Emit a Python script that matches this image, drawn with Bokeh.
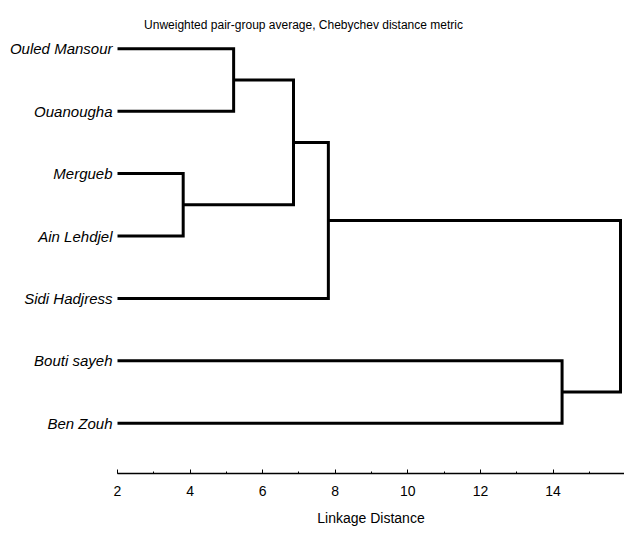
from bokeh.plotting import figure
from bokeh.models import FixedTicker, SingleIntervalTicker, Label, Range1d
from bokeh.embed import file_html
from bokeh.resources import INLINE

# ---- data ----
leaves = ["Ouled Mansour", "Ouanougha", "Mergueb", "Ain Lehdjel",
          "Sidi Hadjress", "Bouti sayeh", "Ben Zouh"]
# linkage: cluster ids 0..6 are leaves, merge k creates cluster 7+k
merge_left = [2, 0, 8, 9, 5, 10]
merge_right = [3, 1, 7, 4, 6, 11]
merge_dist = [3.81, 5.20, 6.85, 7.81, 14.25, 15.86]
x_ticks_interval = 2
title_text = "Unweighted pair-group average, Chebychev distance metric"
x_label = "Linkage Distance"

n = len(leaves)
pos = {i: (0.0, float(n - i)) for i in range(n)}
xs, ys = [], []
for k, (a, b, h) in enumerate(zip(merge_left, merge_right, merge_dist)):
    xa, ya = pos[a]
    xb, yb = pos[b]
    xs.append([xa, h, h, xb])
    ys.append([ya, ya, yb, yb])
    pos[n + k] = (h, (ya + yb) / 2.0)

p = figure(width=624, height=531, output_backend="svg", toolbar_location=None,
           x_range=Range1d(2, 15.97), y_range=Range1d(0.194, 7.774),
           min_border_left=117, min_border_right=0, min_border_top=0,
           min_border_bottom=58)
p.outline_line_color = None
p.grid.visible = False
p.background_fill_color = "white"
p.border_fill_color = "white"

p.multi_line(xs, ys, line_color="black", line_width=3, line_join="miter")

# x axis
xa = p.xaxis[0]
xa.ticker = SingleIntervalTicker(interval=x_ticks_interval, num_minor_ticks=2)
xa.axis_line_width = 1.5
xa.axis_line_color = "black"
xa.major_tick_in = 4
xa.major_tick_out = 0
xa.minor_tick_in = 2
xa.minor_tick_out = 0
xa.major_tick_line_color = "black"
xa.minor_tick_line_color = "black"
xa.major_label_text_font = "Liberation Sans"
xa.major_label_text_font_size = "14px"
xa.major_label_text_color = "black"
xa.major_label_standoff = 12
xa.axis_label = x_label
xa.axis_label_text_font = "Liberation Sans"
xa.axis_label_text_font_size = "14px"
xa.axis_label_text_font_style = "normal"
xa.axis_label_text_color = "black"
xa.axis_label_standoff = 11

# y axis with leaf names
ya = p.yaxis[0]
ya.ticker = FixedTicker(ticks=list(range(1, n + 1)))
ya.major_label_overrides = {n - i: name for i, name in enumerate(leaves)}
ya.axis_line_color = None
ya.major_tick_line_color = None
ya.minor_tick_line_color = None
ya.major_tick_in = 0
ya.major_tick_out = 0
ya.major_label_standoff = 5
ya.major_label_text_font = "Liberation Sans"
ya.major_label_text_font_style = "italic"
ya.major_label_text_font_size = "15px"
ya.major_label_text_color = "black"

p.add_layout(Label(x=7.125, y=7.389, text=title_text,
                   text_font="Liberation Sans",
                   text_font_size="12px", text_color="black",
                   text_align="center", text_baseline="middle"))

open("out.html", "w").write(file_html(p, INLINE))
